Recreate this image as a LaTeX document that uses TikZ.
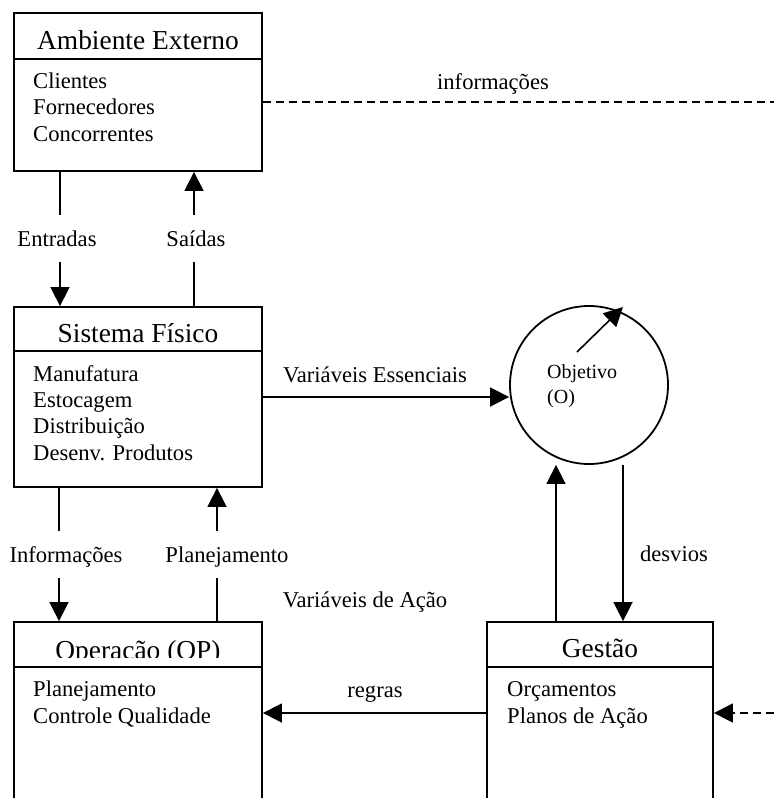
\documentclass[tikz,border=0pt]{standalone}
\usepackage{fontspec}
\setmainfont{Liberation Serif}
\usetikzlibrary{arrows.meta}
\begin{document}
\begin{tikzpicture}[x=1pt,y=-1pt,
  box/.style={draw,rectangle,line width=1.8pt,inner sep=0pt},
  rule/.style={line width=1.8pt},
  boxtitle/.style={anchor=base,inner sep=0pt,font=\fontsize{27.4}{32}\selectfont},
  % multi-line blocks are placed by the baseline of their last line
  boxbody/.style={anchor=base west,align=left,inner sep=0pt,font=\fontsize{22.6}{26.2}\selectfont},
  lbl/.style={inner sep=0pt,text height=17pt,text depth=1pt,font=\fontsize{22.6}{26.2}\selectfont},
  gaplbl/.style={lbl,minimum height=46pt},
  conn/.style={line width=1.6pt},
  arr/.style={conn,-{Triangle[length=19pt,width=19pt]}},
  dashline/.style={dash pattern=on 8pt off 5pt}
]
\useasboundingbox (0,0) rectangle (774,798);
\clip (0,0) rectangle (774,798);

% --- boxes ---
\node[box,minimum width=248pt,minimum height=158pt] (amb) at (138,92) {};
\node[box,minimum width=248pt,minimum height=180pt] (sis) at (138,397) {};
\node[box,minimum width=248pt,minimum height=200pt] (op)  at (138,722) {};
\node[box,minimum width=226pt,minimum height=200pt] (ges) at (600,722) {};
\node[draw,circle,line width=1.8pt,minimum size=158pt,inner sep=0pt] (obj) at (589,385) {};

% title rules
\draw[rule] (amb.west |- 0,59)  -- (amb.east |- 0,59);
\draw[rule] (sis.west |- 0,351) -- (sis.east |- 0,351);
\draw[rule] (op.west |- 0,667)  -- (op.east |- 0,667);
\draw[rule] (ges.west |- 0,667) -- (ges.east |- 0,667);

% titles
\node[boxtitle] (ambT) at (138,49) {Ambiente Externo};
\node[boxtitle] (sisT) at (138,342) {Sistema Físico};
\begin{scope}
  \clip (14,622) rectangle (262,657.5);
  \node[boxtitle] (opT) at (138,659) {Operação (OP)};
\end{scope}
\node[boxtitle] (gesT) at (600,657) {Gestão};

% contents
\node[boxbody] (ambB) at (33,141) {Clientes\\Fornecedores\\Concorrentes};
\node[boxbody] (sisB) at (33,460) {Manufatura\\Estocagem\\Distribuição\\Desenv. Produtos};
\node[boxbody] (opB)  at (33,723) {Planejamento\\Controle Qualidade};
\node[boxbody] (gesB) at (507,723) {Orçamentos\\Planos de Ação};
\node[anchor=base west,align=left,inner sep=0pt,font=\fontsize{20}{25}\selectfont] (objT) at (547,403) {Objetivo\\(O)};

% --- vertical flows ---
\coordinate (cE) at (60,0);
\coordinate (cS) at (194,0);
\coordinate (cI) at (59,0);
\coordinate (cP) at (217,0);
\coordinate (cU) at (556,0);
\coordinate (cD) at (623,0);

\node[gaplbl] (lE) at (57,238.5)  {Entradas};
\node[gaplbl] (lS) at (196,238.5) {Saídas};
\node[gaplbl] (lI) at (66,554.5)  {Informações};
\node[gaplbl] (lP) at (227,554.5) {Planejamento};

\draw[conn] (amb.south -| cE) -- (lE.north -| cE);
\draw[arr]  (lE.south -| cE) -- (sis.north -| cE);
\draw[conn] (sis.north -| cS) -- (lS.south -| cS);
\draw[arr]  (lS.north -| cS) -- (amb.south -| cS);
\draw[conn] (sis.south -| cI) -- (lI.north -| cI);
\draw[arr]  (lI.south -| cI) -- (op.north -| cI);
\draw[conn] (op.north -| cP) -- (lP.south -| cP);
\draw[arr]  (lP.north -| cP) -- (sis.south -| cP);

\draw[arr] (cD |- obj.south) -- (cD |- ges.north);
\draw[arr] (cU |- ges.north) -- (cU |- obj.south);
\node[lbl,anchor=base] (lD) at (674,561) {desvios};

% --- objective ---
\draw[arr] (sis.east) -- (sis.east -| obj.west);
\node[lbl,anchor=base] (lVE) at (375,382) {Variáveis Essenciais};
\draw[arr] ([shift={(-12,-33)}]obj.center) -- ([shift={(34,-78)}]obj.center);

% --- action ---
\coordinate (yR) at (0,713);
\draw[arr] (ges.west |- yR) -- (op.east |- yR);
\node[lbl,anchor=base] (lR) at (375,697) {regras};
\node[lbl,anchor=base] (lVA) at (365,607) {Variáveis de Ação};

% --- information from outside ---
\coordinate (rOut) at (774,102);
\coordinate (rIn) at (774,713);
\draw[conn,dashline] (amb.east |- rOut) -- (rOut);
\node[lbl,anchor=base] (lInf) at (493,89) {informações};
\draw[arr,dashline] (rIn) -- (ges.east |- rIn);
\end{tikzpicture}
\end{document}
